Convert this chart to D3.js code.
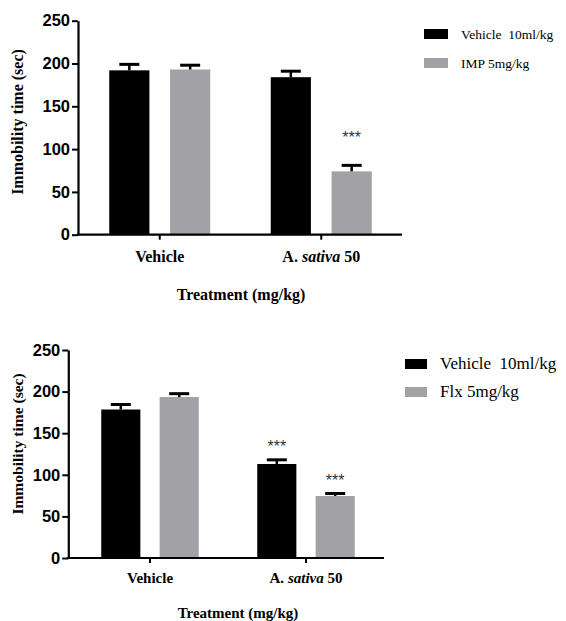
<!DOCTYPE html>
<html>
<head>
  <meta charset="utf-8">
  <title>Immobility time</title>
  <script src="https://d3js.org/d3.v7.min.js"></script>
  <style>
    body { margin: 0; background: #fff; }
  </style>
</head>
<body>
  <script>
    // data
    var categories = ['Vehicle', 'A. sativa 50'];
    var yTicks = [0, 50, 100, 150, 200, 250];

    var topSeries = ['Vehicle  10ml/kg', 'IMP 5mg/kg'];
    var topVehicle = [192, 184];
    var topVehicleErr = [7, 7];
    var topDrug = [193, 74];
    var topDrugErr = [5, 7];
    var topStars = [['', ''], ['', '***']];

    var botSeries = ['Vehicle  10ml/kg', 'Flx 5mg/kg'];
    var botVehicle = [178.5, 113];
    var botVehicleErr = [6, 5];
    var botDrug = [193.5, 74.5];
    var botDrugErr = [4, 3];
    var botStars = [['', '***'], ['', '***']];

    var colors = ['#000000', '#a2a2a6'];

    var svg = d3.select('body').append('svg')
      .attr('width', 566)
      .attr('height', 621);

    function drawChart(o) {
      var g = svg.append('g');
      var y = d3.scaleLinear().domain([0, 250]).range([o.y0, o.y1]);
      var x = d3.scaleBand().domain(categories).range([o.xStart, o.xEnd]);
      var inner = d3.scaleBand().domain([0, 1])
        .range([-o.group / 2, o.group / 2]).paddingInner(o.pad);

      var rows = [];
      categories.forEach(function(c, ci) {
        o.means.forEach(function(m, si) {
          rows.push({c: c, s: si, v: m[ci], e: o.errs[si][ci], star: o.stars[si][ci]});
        });
      });

      function bx(d) { return x(d.c) + x.bandwidth() / 2 + inner(d.s); }

      g.selectAll('rect.bar').data(rows).enter().append('rect')
        .attr('class', 'bar')
        .attr('x', bx)
        .attr('width', inner.bandwidth())
        .attr('y', function(d) { return y(d.v); })
        .attr('height', function(d) { return y(0) - y(d.v); })
        .attr('fill', function(d) { return colors[d.s]; });

      // error bars (upper only)
      var eb = g.selectAll('g.err').data(rows).enter().append('g').attr('class', 'err');
      eb.append('line')
        .attr('x1', function(d) { return bx(d) + inner.bandwidth() / 2; })
        .attr('x2', function(d) { return bx(d) + inner.bandwidth() / 2; })
        .attr('y1', function(d) { return y(d.v); })
        .attr('y2', function(d) { return y(d.v + d.e); })
        .attr('stroke', '#000').attr('stroke-width', 2.5);
      eb.append('line')
        .attr('x1', function(d) { return bx(d) + inner.bandwidth() / 2 - 10; })
        .attr('x2', function(d) { return bx(d) + inner.bandwidth() / 2 + 10; })
        .attr('y1', function(d) { return y(d.v + d.e); })
        .attr('y2', function(d) { return y(d.v + d.e); })
        .attr('stroke', '#000').attr('stroke-width', 3);

      g.selectAll('text.star').data(rows.filter(function(d) { return d.star; }))
        .enter().append('text')
        .attr('class', 'star')
        .attr('x', function(d) { return bx(d) + inner.bandwidth() / 2; })
        .attr('y', function(d) { return y(d.v + d.e) - o.starGap; })
        .attr('text-anchor', 'middle')
        .style('font', '16px "Liberation Sans", Arial, sans-serif')
        .attr('fill', '#333')
        .text(function(d) { return d.star; });

      // y axis
      var ya = g.append('g')
        .attr('transform', 'translate(' + o.axisX + ',0)')
        .call(d3.axisLeft(y).tickValues(yTicks).tickSize(6).tickPadding(2).tickSizeOuter(0));
      ya.select('.domain').attr('stroke-width', 2.2);
      ya.selectAll('.tick line').attr('stroke-width', 2);
      ya.selectAll('text')
        .style('font', 'bold ' + o.tickFont + 'px "Liberation Sans", Arial, sans-serif')
        .attr('fill', '#000');

      // x axis
      var xa = g.append('g')
        .attr('transform', 'translate(0,' + o.y0 + ')')
        .call(d3.axisBottom(x).tickSize(5).tickSizeOuter(0).tickFormat(''));
      xa.select('.domain').remove();
      xa.selectAll('.tick line').attr('stroke-width', 2);
      g.append('line')
        .attr('x1', o.axisX - 1).attr('x2', o.xEnd)
        .attr('y1', o.y0).attr('y2', o.y0)
        .attr('stroke', '#000').attr('stroke-width', 2.2);

      var catFont = 'bold ' + o.catFont + 'px "Liberation Serif", "Times New Roman", serif';
      g.selectAll('text.cat').data(categories).enter().append('text')
        .attr('class', 'cat')
        .attr('x', function(d) { return x(d) + x.bandwidth() / 2; })
        .attr('y', o.catY)
        .attr('text-anchor', 'middle')
        .style('font', catFont)
        .each(function(d) {
          var t = d3.select(this);
          if (d.indexOf('sativa') >= 0) {
            t.append('tspan').text('A. ');
            t.append('tspan').style('font-style', 'italic').text('sativa');
            t.append('tspan').text(' 50');
          } else {
            t.text(d);
          }
        });

      g.append('text')
        .attr('x', o.titleX).attr('y', o.titleY)
        .attr('text-anchor', 'middle')
        .style('font', catFont)
        .text('Treatment (mg/kg)');

      g.append('text')
        .attr('transform', 'translate(' + o.labX + ',' + o.labY + ') rotate(-90)')
        .attr('text-anchor', 'middle')
        .style('font', 'bold ' + o.labFont + 'px "Liberation Serif", "Times New Roman", serif')
        .text('Immobility time (sec)');

      // legend
      var lg = g.selectAll('g.leg').data(o.series).enter().append('g')
        .attr('class', 'leg')
        .attr('transform', function(d, i) { return 'translate(' + o.legX + ',' + (o.legY + i * o.legStep) + ')'; });
      lg.append('rect')
        .attr('width', o.legW).attr('height', 10)
        .attr('fill', function(d, i) { return colors[i]; });
      lg.append('text')
        .attr('x', o.legTextX).attr('y', 10)
        .style('font', o.legFont + 'px "Liberation Serif", "Times New Roman", serif')
        .style('white-space', 'pre')
        .attr('xml:space', 'preserve')
        .text(function(d) { return d; });
    }

    drawChart({
      means: [topVehicle, topDrug], errs: [topVehicleErr, topDrugErr], stars: topStars,
      series: topSeries,
      y0: 234.7, y1: 20.7, axisX: 78, xStart: 79, xEnd: 402,
      group: 101, pad: 0.34, starGap: 22,
      tickFont: 16.5, catFont: 16, catY: 262, titleX: 241, titleY: 300,
      labX: 23, labY: 122, labFont: 16,
      legX: 424, legY: 29, legStep: 29, legW: 24, legTextX: 37, legFont: 13.5
    });

    drawChart({
      means: [botVehicle, botDrug], errs: [botVehicleErr, botDrugErr], stars: botStars,
      series: botSeries,
      y0: 558, y1: 350, axisX: 68.3, xStart: 72, xEnd: 384,
      group: 97.5, pad: 0.33, starGap: 8,
      tickFont: 16.5, catFont: 15, catY: 583, titleX: 238, titleY: 618,
      labX: 23, labY: 444, labFont: 15.5,
      legX: 405, legY: 359, legStep: 28, legW: 22, legTextX: 35, legFont: 17
    });
  </script>
</body>
</html>
